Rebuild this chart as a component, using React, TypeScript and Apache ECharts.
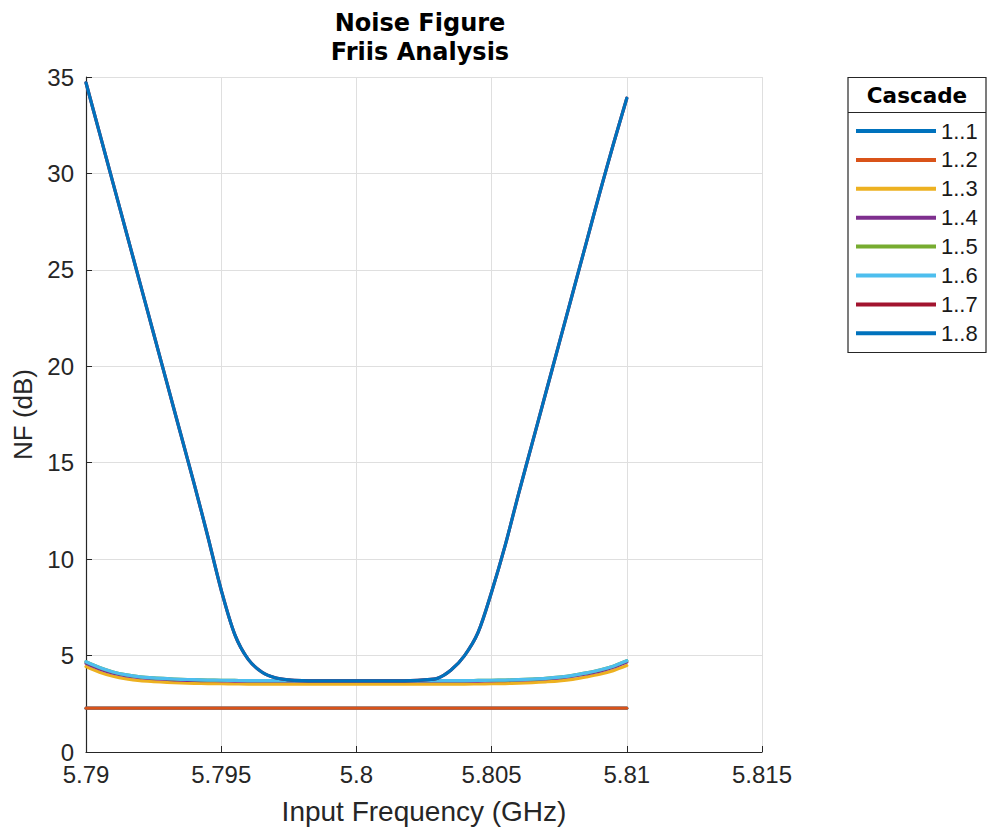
import React, { useEffect, useRef } from "react";
import * as echarts from "echarts";

const freqGHz = [
  5.79, 5.7905, 5.791, 5.7915, 5.792, 5.7925, 5.793, 5.7935, 5.794, 5.7945,
  5.795, 5.7955, 5.796, 5.7965, 5.797, 5.7975, 5.798, 5.7985, 5.799, 5.7995,
  5.8, 5.8005, 5.801, 5.8015, 5.802, 5.8025, 5.803, 5.8035, 5.804, 5.8045,
  5.805, 5.8055, 5.806, 5.8065, 5.807, 5.8075, 5.808, 5.8085, 5.809, 5.8095,
  5.81,
];

const nf11 = [
  2.27, 2.27, 2.27, 2.27, 2.27, 2.27, 2.27, 2.27, 2.27, 2.27,
  2.27, 2.27, 2.27, 2.27, 2.27, 2.27, 2.27, 2.27, 2.27, 2.27,
  2.27, 2.27, 2.27, 2.27, 2.27, 2.27, 2.27, 2.27, 2.27, 2.27,
  2.27, 2.27, 2.27, 2.27, 2.27, 2.27, 2.27, 2.27, 2.27, 2.27,
  2.27,
];
const nf12 = [
  2.27, 2.27, 2.27, 2.27, 2.27, 2.27, 2.27, 2.27, 2.27, 2.27,
  2.27, 2.27, 2.27, 2.27, 2.27, 2.27, 2.27, 2.27, 2.27, 2.27,
  2.27, 2.27, 2.27, 2.27, 2.27, 2.27, 2.27, 2.27, 2.27, 2.27,
  2.27, 2.27, 2.27, 2.27, 2.27, 2.27, 2.27, 2.27, 2.27, 2.27,
  2.27,
];
const nf13 = [
  4.43, 4.14, 3.93, 3.79, 3.7, 3.65, 3.61, 3.58, 3.56, 3.55,
  3.54, 3.53, 3.52, 3.52, 3.52, 3.52, 3.52, 3.52, 3.52, 3.52,
  3.52, 3.52, 3.52, 3.52, 3.52, 3.52, 3.52, 3.52, 3.52, 3.53,
  3.54, 3.55, 3.57, 3.6, 3.64, 3.69, 3.77, 3.89, 4.03, 4.22,
  4.48,
];
const nf14 = [
  4.6, 4.31, 4.09, 3.95, 3.86, 3.8, 3.76, 3.73, 3.71, 3.7,
  3.69, 3.68, 3.67, 3.67, 3.67, 3.67, 3.67, 3.67, 3.67, 3.67,
  3.67, 3.67, 3.67, 3.67, 3.67, 3.67, 3.67, 3.67, 3.67, 3.68,
  3.69, 3.7, 3.72, 3.75, 3.79, 3.84, 3.93, 4.05, 4.19, 4.39,
  4.66,
];
const nf15 = [
  4.68, 4.38, 4.15, 4.0, 3.9, 3.84, 3.8, 3.77, 3.75, 3.73,
  3.72, 3.71, 3.7, 3.7, 3.7, 3.7, 3.7, 3.7, 3.7, 3.7,
  3.7, 3.7, 3.7, 3.7, 3.7, 3.7, 3.7, 3.7, 3.7, 3.71,
  3.72, 3.73, 3.75, 3.78, 3.82, 3.88, 3.97, 4.1, 4.25, 4.45,
  4.73,
];
const nf16 = [
  4.68, 4.38, 4.15, 4.0, 3.9, 3.84, 3.8, 3.77, 3.75, 3.73,
  3.72, 3.71, 3.7, 3.7, 3.7, 3.7, 3.7, 3.7, 3.7, 3.7,
  3.7, 3.7, 3.7, 3.7, 3.7, 3.7, 3.7, 3.7, 3.7, 3.71,
  3.72, 3.73, 3.75, 3.78, 3.82, 3.88, 3.97, 4.1, 4.25, 4.45,
  4.73,
];
const nf17 = [
  34.7, 32.1, 29.5, 26.9, 24.3, 21.7, 19.1, 16.5, 13.9, 11.2,
  8.4, 6.1, 4.8, 4.15, 3.85, 3.74, 3.7, 3.69, 3.69, 3.69,
  3.69, 3.69, 3.69, 3.69, 3.7, 3.74, 3.82, 4.25, 5.0, 6.2,
  8.3, 10.7, 13.4, 16.0, 18.6, 21.2, 23.8, 26.4, 29.0, 31.5,
  33.9,
];
const nf18 = [
  34.7, 32.1, 29.5, 26.9, 24.3, 21.7, 19.1, 16.5, 13.9, 11.2,
  8.4, 6.1, 4.8, 4.15, 3.85, 3.74, 3.7, 3.69, 3.69, 3.69,
  3.69, 3.69, 3.69, 3.69, 3.7, 3.74, 3.82, 4.25, 5.0, 6.2,
  8.3, 10.7, 13.4, 16.0, 18.6, 21.2, 23.8, 26.4, 29.0, 31.5,
  33.9,
];

const seriesNames = ["1..1", "1..2", "1..3", "1..4", "1..5", "1..6", "1..7", "1..8"];
const seriesValues = [nf11, nf12, nf13, nf14, nf15, nf16, nf17, nf18];
const seriesColors = [
  "#0072BD", "#D95319", "#EDB120", "#7E2F8E",
  "#77AC30", "#4DBEEE", "#A2142F", "#0072BD",
];

const titleLines = "Noise Figure\nFriis Analysis";
const legendTitle = "Cascade";
const xAxisName = "Input Frequency (GHz)";
const yAxisName = "NF (dB)";

const FONT = "'Liberation Sans', Arial, Helvetica, sans-serif";
const BOLD_FONT = "'DejaVu Sans', sans-serif";
const AXIS_COLOR = "#262626";
const GRID_COLOR = "#dfdfdf";

export default function App() {
  const ref = useRef<HTMLDivElement>(null);

  useEffect(() => {
    if (!ref.current) return;
    document.body.style.margin = "0";
    const chart = echarts.init(ref.current, undefined, { renderer: "svg" });

    const series = seriesNames.map((name, i) => ({
      name,
      type: "line",
      data: freqGHz.map((f, j) => [f, seriesValues[i][j]]),
      showSymbol: false,
      symbol: "none",
      smooth: 0.3,
      lineStyle: { color: seriesColors[i], width: 3.2, join: "round", cap: "round" },
      itemStyle: { color: seriesColors[i] },
      z: 2 + i,
    }));

    const option = {
      animation: false,
      backgroundColor: "#ffffff",
      grid: { left: 86, top: 77, width: 676, height: 675, show: false, containLabel: false },
      xAxis: {
        type: "value",
        min: 5.79,
        max: 5.815,
        interval: 0.005,
        name: xAxisName,
        nameLocation: "middle",
        nameGap: 45,
        nameTextStyle: { fontFamily: FONT, fontSize: 28, color: AXIS_COLOR },
        axisLine: { show: true, onZero: false, lineStyle: { color: AXIS_COLOR, width: 1.2 } },
        axisTick: { show: true, inside: true, length: 6, lineStyle: { color: AXIS_COLOR, width: 1 } },
        axisLabel: { fontFamily: FONT, fontSize: 24, lineHeight: 19, color: AXIS_COLOR, margin: 13 },
        splitLine: { show: true, lineStyle: { color: GRID_COLOR, width: 1 } },
      },
      yAxis: {
        type: "value",
        min: 0,
        max: 35,
        interval: 5,
        name: yAxisName,
        nameLocation: "middle",
        nameGap: 46,
        nameTextStyle: { fontFamily: FONT, fontSize: 26, color: AXIS_COLOR },
        axisLine: { show: true, onZero: false, lineStyle: { color: AXIS_COLOR, width: 1.2 } },
        axisTick: { show: true, inside: true, length: 6, lineStyle: { color: AXIS_COLOR, width: 1 } },
        axisLabel: { fontFamily: FONT, fontSize: 24, lineHeight: 19, color: AXIS_COLOR, margin: 12 },
        splitLine: { show: true, lineStyle: { color: GRID_COLOR, width: 1 } },
      },
      legend: {
        orient: "vertical",
        left: 856,
        top: 120,
        padding: 0,
        itemWidth: 80,
        itemHeight: 4,
        itemGap: 6.9,
        icon: "rect",
        data: seriesNames,
        textStyle: { fontFamily: FONT, fontSize: 22, color: "#1a1a1a", lineHeight: 22 },
      },
      graphic: [
        {
          type: "text",
          x: 420,
          y: 9,
          style: {
            text: titleLines,
            fontFamily: BOLD_FONT,
            fontWeight: "bold",
            fontSize: 24,
            lineHeight: 28.5,
            fill: "#000",
            textAlign: "center",
            textVerticalAlign: "top",
          },
        },
        {
          type: "rect",
          shape: { x: 848, y: 77.5, width: 138, height: 275 },
          style: { fill: "none", stroke: AXIS_COLOR, lineWidth: 1.2 },
          silent: true,
        },
        {
          type: "line",
          shape: { x1: 848, y1: 112.5, x2: 986, y2: 112.5 },
          style: { stroke: AXIS_COLOR, lineWidth: 1.2 },
          silent: true,
        },
        {
          type: "text",
          x: 917,
          y: 95,
          style: {
            text: legendTitle,
            fontFamily: BOLD_FONT,
            fontWeight: "bold",
            fontSize: 21.5,
            fill: "#000",
            textAlign: "center",
            textVerticalAlign: "middle",
          },
        },
      ],
      series,
    };

    chart.setOption(option as any);
    return () => chart.dispose();
  }, []);

  return (
    <div
      ref={ref}
      style={{ position: "fixed", left: 0, top: 0, width: 987, height: 830 }}
    />
  );
}
